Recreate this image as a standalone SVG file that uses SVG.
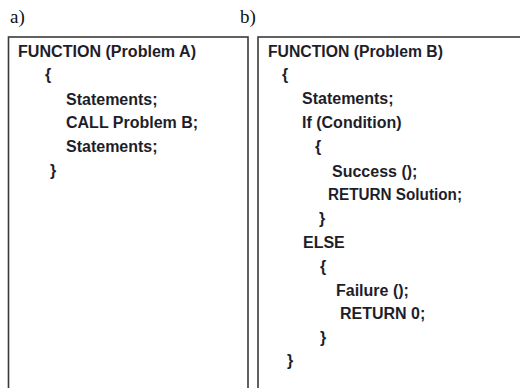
<svg xmlns="http://www.w3.org/2000/svg" width="520" height="388" viewBox="0 0 520 388">
  <style>
    .panel { fill: #ffffff; stroke: #3a3a3a; stroke-width: 1.6; }
    .tag { font-family: "Liberation Serif", "DejaVu Serif", serif; font-size: 19px; fill: #111111; }
    .code { font-family: "Liberation Sans", Arial, sans-serif; font-weight: bold; font-size: 16px; fill: #1e1e2a; }
  </style>
  <rect width="520" height="388" fill="#ffffff"/>

  <!-- panel labels -->
  <text class="tag" x="10" y="23">a)</text>
  <text class="tag" x="240" y="23">b)</text>

  <!-- function A -->
  <g id="functionA">
    <rect class="panel" x="8.5" y="37" width="239.5" height="360"/>
    <text class="code" x="18" y="57" textLength="178" lengthAdjust="spacingAndGlyphs">FUNCTION (Problem A)</text>
    <text class="code" x="45" y="80">{</text>
    <text class="code" x="66" y="105">Statements;</text>
    <text class="code" x="66" y="128">CALL Problem B;</text>
    <text class="code" x="66" y="152">Statements;</text>
    <text class="code" x="50" y="176">}</text>
  </g>

  <!-- function B -->
  <g id="functionB">
    <rect class="panel" x="258" y="37" width="270" height="360"/>
    <text class="code" x="268" y="57" textLength="175" lengthAdjust="spacingAndGlyphs">FUNCTION (Problem B)</text>
    <text class="code" x="282" y="80">{</text>
    <text class="code" x="302" y="104">Statements;</text>
    <text class="code" x="302" y="128">If (Condition)</text>
    <text class="code" x="315" y="152">{</text>
    <text class="code" x="332" y="177">Success ();</text>
    <text class="code" x="328" y="200" textLength="134" lengthAdjust="spacingAndGlyphs">RETURN Solution;</text>
    <text class="code" x="319" y="224">}</text>
    <text class="code" x="303" y="248">ELSE</text>
    <text class="code" x="320" y="272">{</text>
    <text class="code" x="336" y="296">Failure ();</text>
    <text class="code" x="340" y="319">RETURN 0;</text>
    <text class="code" x="320" y="343">}</text>
    <text class="code" x="287" y="366">}</text>
  </g>
</svg>
